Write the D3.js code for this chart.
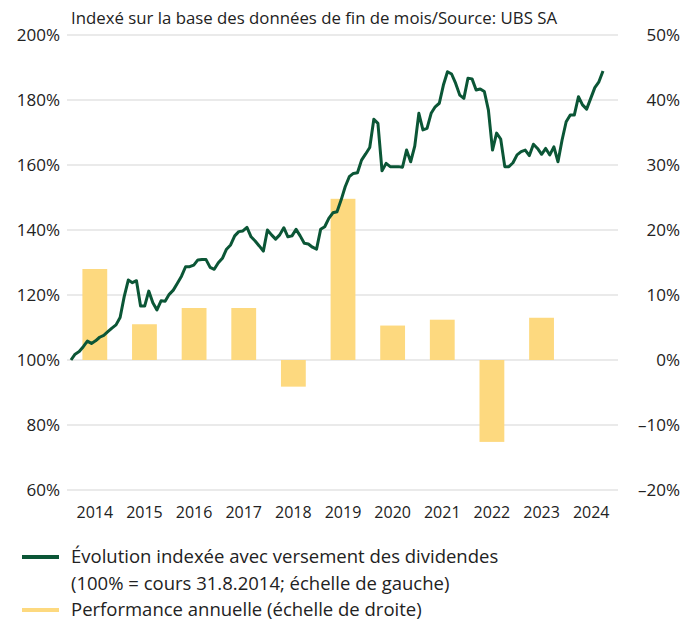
<!DOCTYPE html>
<html>
<head>
<meta charset="utf-8">
<script src="https://cdn.jsdelivr.net/npm/d3@7"></script>
<style>
  html, body { margin: 0; padding: 0; background: #fff; }
  svg { display: block; font-family: "Open Sans", sans-serif; }
</style>
</head>
<body>
<div id="chart"></div>
<script>
// Year categories on the x axis
const years = [2014, 2015, 2016, 2017, 2018, 2019, 2020, 2021, 2022, 2023, 2024];

// Annual performance in % (right scale), no bar for 2024
const perfYears = [2014, 2015, 2016, 2017, 2018, 2019, 2020, 2021, 2022, 2023];
const perfValues = [14.0, 5.5, 8.0, 8.0, -4.1, 24.8, 5.3, 6.2, -12.6, 6.5];

// Indexed development incl. dividends, month-end values (100% = 31.8.2014)
const indexValues = [
  100.0, 101.8, 102.6, 104.1, 105.8, 105.1, 105.9, 107.0, 107.6, 108.7,
  109.8, 110.8, 113.1, 119.5, 124.6, 123.8, 124.4, 116.6, 116.6, 121.2,
  117.6, 115.4, 118.2, 118.1, 120.2, 121.5, 123.6, 125.8, 128.7, 128.7,
  129.2, 130.8, 130.9, 130.9, 128.5, 127.9, 129.9, 131.3, 134.1, 135.4,
  138.2, 139.5, 139.7, 140.8, 137.9, 136.6, 135.1, 133.5, 140.0, 138.5,
  137.2, 138.5, 140.7, 137.9, 138.2, 140.2, 138.2, 135.9, 135.7, 134.7,
  134.1, 140.2, 141.0, 143.6, 145.3, 145.6, 149.2, 153.3, 156.4, 157.4,
  157.6, 161.5, 163.4, 165.4, 174.1, 172.8, 158.2, 160.5, 159.5, 159.5,
  159.5, 159.3, 164.6, 161.0, 165.8, 175.9, 170.8, 171.3, 175.9, 177.9,
  179.0, 184.6, 188.7, 188.0, 185.1, 181.5, 180.5, 186.7, 186.5, 183.1,
  183.4, 182.6, 176.9, 164.6, 169.8, 168.0, 159.5, 159.5, 160.7, 163.1,
  164.1, 164.6, 162.9, 166.4, 165.1, 163.3, 165.1, 163.1, 165.6, 161.0,
  167.7, 173.3, 175.4, 175.4, 181.0, 178.5, 177.2, 180.5, 183.8, 185.6,
  188.9
];

// Tick values for both axes
const leftTicks = [60, 80, 100, 120, 140, 160, 180, 200];
const rightTicks = [-20, -10, 0, 10, 20, 30, 40, 50];

const titleText = "Indexé sur la base des données de fin de mois/Source: UBS SA";
const legendItems = [
  { lines: ["Évolution indexée avec versement des dividendes", "(100% = cours 31.8.2014; échelle de gauche)"], color: "#0b5636" },
  { lines: ["Performance annuelle (échelle de droite)"], color: "#fdd97f" }
];

const width = 687;
const height = 622;
const plot = { left: 67, right: 618, top: 35, bottom: 490 };

const svg = d3.select("#chart")
  .append("svg")
  .attr("width", width)
  .attr("height", height);

// Scales
const yLeft = d3.scaleLinear().domain([60, 200]).range([plot.bottom, plot.top]);
const yRight = d3.scaleLinear().domain([-20, 50]).range([plot.bottom, plot.top]);
const x = d3.scaleBand().domain(years).range([70, 616]).paddingInner(0.5).paddingOuter(0.25);
const xLine = d3.scaleLinear().domain([0, indexValues.length - 1]).range([71, 603]);

// Title
svg.append("text")
  .attr("x", 71)
  .attr("y", 24)
  .style("font-size", "16.8px")
  .style("fill", "#222")
  .text(titleText);

// Grid lines
svg.append("g")
  .selectAll("line")
  .data(leftTicks)
  .enter()
  .append("line")
  .attr("x1", plot.left)
  .attr("x2", plot.right)
  .attr("y1", d => yLeft(d))
  .attr("y2", d => yLeft(d))
  .attr("stroke", "#d6d6d6")
  .attr("stroke-width", 1.2);

// Left axis labels
svg.append("g")
  .selectAll("text")
  .data(leftTicks)
  .enter()
  .append("text")
  .attr("x", 60)
  .attr("y", d => yLeft(d))
  .attr("dy", "0.35em")
  .attr("text-anchor", "end")
  .style("font-size", "17px")
  .style("fill", "#222")
  .text(d => d + "%");

// Right axis labels
svg.append("g")
  .selectAll("text")
  .data(rightTicks)
  .enter()
  .append("text")
  .attr("x", 680)
  .attr("y", d => yRight(d))
  .attr("dy", "0.35em")
  .attr("text-anchor", "end")
  .style("font-size", "17px")
  .style("fill", "#222")
  .text(d => (d < 0 ? "–" + Math.abs(d) : d) + "%");

// Year labels
svg.append("g")
  .selectAll("text")
  .data(years)
  .enter()
  .append("text")
  .attr("x", d => x(d) + x.bandwidth() / 2)
  .attr("y", 512)
  .attr("dy", "0.35em")
  .attr("text-anchor", "middle")
  .style("font-size", "16px")
  .style("fill", "#222")
  .text(d => d);

// Annual performance bars
svg.append("g")
  .selectAll("rect")
  .data(perfYears.map((year, i) => ({ year, value: perfValues[i] })))
  .enter()
  .append("rect")
  .attr("x", d => x(d.year))
  .attr("width", x.bandwidth())
  .attr("y", d => yRight(Math.max(0, d.value)))
  .attr("height", d => Math.abs(yRight(d.value) - yRight(0)))
  .attr("fill", "#fdd97f");

// Indexed line
const line = d3.line()
  .x((d, i) => xLine(i))
  .y(d => yLeft(d));

svg.append("path")
  .datum(indexValues)
  .attr("d", line)
  .attr("fill", "none")
  .attr("stroke", "#0b5636")
  .attr("stroke-width", 3)
  .attr("stroke-linejoin", "round");

// Legend
let legendY = 557;
legendItems.forEach(item => {
  svg.append("line")
    .attr("x1", 22)
    .attr("x2", 59)
    .attr("y1", legendY)
    .attr("y2", legendY)
    .attr("stroke", item.color)
    .attr("stroke-width", 4);

  item.lines.forEach(t => {
    svg.append("text")
      .attr("x", 71)
      .attr("y", legendY)
      .attr("dy", "0.35em")
      .style("font-size", "18.5px")
      .style("fill", "#222")
      .text(t);
    legendY += 26.5;
  });
});
</script>
</body>
</html>
